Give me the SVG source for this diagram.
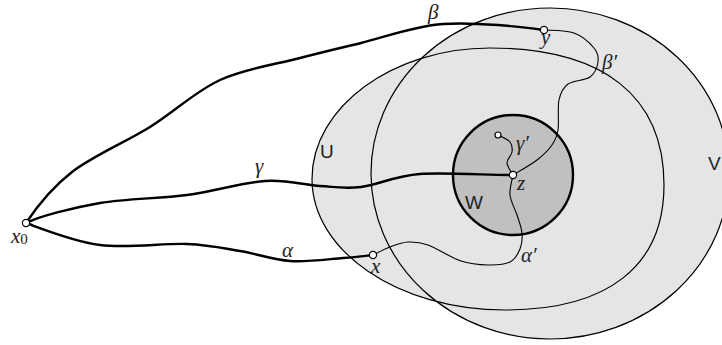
<svg xmlns="http://www.w3.org/2000/svg" width="722" height="345" viewBox="0 0 722 345">
<style>
.fill{fill:#e5e5e5;stroke:none}
.edge{fill:none;stroke:#000;stroke-width:1.2}
.thick{fill:none;stroke:#000;stroke-width:2.4;stroke-linecap:round}
.thin{fill:none;stroke:#000;stroke-width:1.1;stroke-linecap:round}
.pt{fill:#fff;stroke:#000;stroke-width:1.2}
.m{font-family:"Liberation Serif",serif;font-style:italic;font-size:21px;fill:#222}
.s{font-family:"Liberation Sans",sans-serif;font-size:19px;fill:#222}
</style>
<defs>
<path id="uShape" d="M312,179 C312,107 393,48 490,48 C603,48 664,96 664,185 C664,266 608,310 505,310 C398,310 312,251 312,179 Z"/>
</defs>
<g id="regions">
<g id="V"><ellipse class="fill" cx="550" cy="173.5" rx="179" ry="165.5"/></g>
<g id="U"><use href="#uShape" class="fill"/></g>
<ellipse class="edge" cx="550" cy="173.5" rx="179" ry="165.5"/>
<use href="#uShape" class="edge"/>
<g id="W"><circle cx="513" cy="175" r="60" fill="#c0c0c0" stroke="#000" stroke-width="2.4"/></g>
</g>
<g id="connectors">
<path id="beta" class="thick" d="M26,223 C36,208 51.3,188 72,172 C92.7,156 125.3,142.3 150,127 C174.7,111.7 195,91.5 220,80 C245,68.5 276.5,64.2 300,58 C323.5,51.8 337.2,48.7 361,43 C384.8,37.3 412.7,26.2 443,24 C473.3,21.8 526,27 543,30"/>
<path id="gamma" class="thick" d="M26,223 C40,216 73.2,207.7 100,203 C126.8,198.3 159.5,198.7 187,195 C214.5,191.3 242.8,182.5 265,181 C287.2,179.5 304,185 320,186 C336,187 344.3,189 361,187 C377.7,185 394.7,175.8 420,174 C445.3,172.2 497.5,175.7 513,175"/>
<path id="alpha" class="thick" d="M26,223 C40,228 73.2,241.5 100,245 C126.8,248.5 163.7,243 187,244 C210.3,245 222.8,248.2 240,251 C257.2,253.8 272.8,259.8 290,261 C307.2,262.2 329.2,259 343,258 C356.8,257 368,255.5 373,255"/>
<path id="betaPrime" class="thin" d="M544,30 C549,30.5 565.7,30 574,33 C582.3,36 590,43.2 594,48 C598,52.8 598.7,57.2 598,62 C597.3,66.8 595,73.3 590,77 C585,80.7 573.2,80.2 568,84 C562.8,87.8 560.7,92.3 559,100 C557.3,107.7 559.2,122.5 558,130 C556.8,137.5 555.5,140 552,145 C548.5,150 543.5,155 537,160 C530.5,165 517,172.5 513,175"/>
<path id="alphaPrime" class="thin" d="M373,255 C375.8,253.7 384.2,249.2 390,247 C395.8,244.8 401.7,242.3 408,242 C414.3,241.7 419.2,241.8 428,245 C436.8,248.2 451,257.7 461,261 C471,264.3 479.8,264.8 488,265 C496.2,265.2 504.7,264.7 510,262 C515.3,259.3 518,253.8 520,249 C522,244.2 522.5,238.7 522,233 C521.5,227.3 519,221.3 517,215 C515,208.7 510.7,201.7 510,195 C509.3,188.3 512.5,178.3 513,175"/>
<path id="gammaPrime" class="thin" d="M513,175 C512,173 507.2,166.8 507,163 C506.8,159.2 511.5,155.5 512,152 C512.5,148.5 512.3,144.8 510,142 C507.7,139.2 500,136.2 498,135"/>
</g>
<g id="points">
<g id="x0"><circle class="pt" cx="26" cy="223" r="3.6"/></g>
<g id="y"><circle class="pt" cx="544" cy="30" r="3.6"/></g>
<g id="z"><circle class="pt" cx="513" cy="175" r="3.6"/></g>
<g id="x"><circle class="pt" cx="373" cy="255" r="3.6"/></g>
<g id="g1end"><circle class="pt" cx="498" cy="135" r="3"/></g>
</g>
<g id="labels">
<text class="m" x="428" y="19">β</text>
<text class="m" x="541" y="44">y</text>
<text class="m" x="602" y="69">β′</text>
<text class="m" x="255" y="173">γ</text>
<text class="s" x="320" y="158">U</text>
<text class="s" x="708" y="170">V</text>
<text class="m" x="516" y="150">γ′</text>
<text class="m" x="517" y="190">z</text>
<text class="s" x="465" y="209">W</text>
<text class="m" x="11" y="243">x<tspan font-style="normal" font-size="15" dy="1">0</tspan></text>
<text class="m" x="282" y="257">α</text>
<text class="m" x="371" y="273">x</text>
<text class="m" x="521" y="262">α′</text>
</g>
</svg>
